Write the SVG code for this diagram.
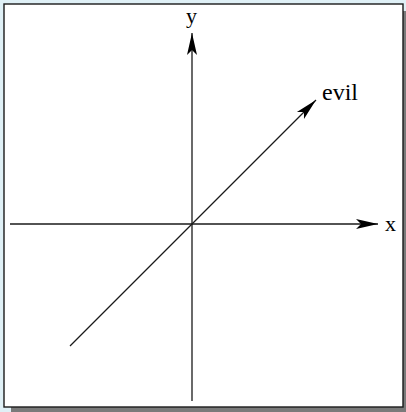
<svg xmlns="http://www.w3.org/2000/svg" width="406" height="412" viewBox="0 0 406 412">
<defs>
<marker id="ah" viewBox="-23 -6 24 12" refX="0" refY="0" markerWidth="24" markerHeight="12" markerUnits="userSpaceOnUse" orient="auto">
<path d="M0,0 L-22,-5 L-17,0 L-22,5 Z" fill="#000"/>
</marker>
<style>
.ax{stroke:#1a1a1a;stroke-width:1.3;fill:none}
.lbl{font-family:"Liberation Serif","Times New Roman",serif;fill:#000}
</style>
</defs>
<rect x="0" y="0" width="406" height="412" fill="#dff0f6"/>
<rect x="11" y="11" width="400" height="401" fill="#7a7a7a"/>
<rect x="4" y="4" width="399" height="403" fill="#fff" stroke="#1a1a1a" stroke-width="1.4"/>
<g id="connectors">
<line class="ax" x1="10" y1="224" x2="378" y2="224" marker-end="url(#ah)"/>
<line class="ax" x1="192" y1="401" x2="192" y2="33" marker-end="url(#ah)"/>
<line class="ax" x1="70" y1="346" x2="316" y2="100" marker-end="url(#ah)"/>
</g>
<g id="label-x"><text class="lbl" x="385" y="231" font-size="22">x</text></g>
<g id="label-y"><text class="lbl" x="186" y="23" font-size="22">y</text></g>
<g id="label-evil"><text class="lbl" x="322" y="100" font-size="24">evil</text></g>
</svg>
